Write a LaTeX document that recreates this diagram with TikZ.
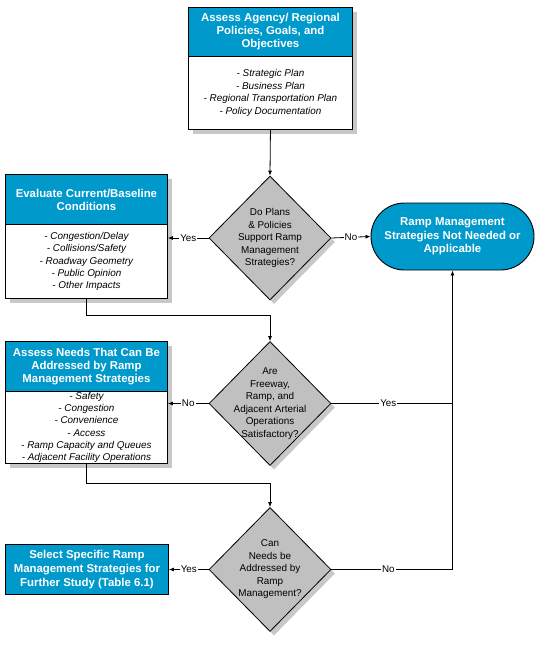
\documentclass[tikz,border=0pt]{standalone}
\usepackage{fontspec}
\setmainfont{Liberation Sans}
\usetikzlibrary{shapes.geometric,shapes.misc,shadows,arrows.meta}
\definecolor{hblue}{RGB}{0,153,204}
\definecolor{dgray}{RGB}{192,192,192}
\definecolor{shgray}{RGB}{200,200,200}
\begin{document}
\begin{tikzpicture}[x=1pt,y=1pt,
  shd/.style={general shadow={fill=shgray, shadow xshift=5pt, shadow yshift=-5pt}},
  hd/.style={draw=black, line width=0.9pt, fill=hblue, text=white,
    font=\fontsize{11.4}{13}\selectfont\bfseries, align=center, inner sep=0pt, anchor=north west, shd},
  bd/.style={draw=black, line width=0.9pt, fill=white,
    font=\fontsize{9.9}{12.4}\selectfont\itshape, align=center, inner sep=0pt, anchor=north west, shd},
  sel/.style={draw=black, line width=0.9pt, fill=hblue, text=white,
    font=\fontsize{11.4}{14}\selectfont\bfseries, align=center, inner sep=0pt, anchor=north west},
  dia/.style={diamond, draw=black, line width=0.8pt, fill=dgray, inner sep=0pt,
    minimum width=122pt, minimum height=124pt,
    general shadow={fill=shgray, shadow xshift=4pt, shadow yshift=-4pt}},
  dtxt/.style={font=\fontsize{9.9}{12.5}\selectfont, align=center, inner sep=0pt},
  lab/.style={fill=white, font=\fontsize{9.8}{11}\selectfont, inner sep=1pt},
  arr/.style={line width=0.8pt, -{Latex[length=5pt,width=4pt]}},
  ln/.style={line width=0.8pt}
]
\useasboundingbox (0,0) rectangle (547,-648);

% top box
\node[hd, minimum width=164pt, minimum height=49pt] (tophead) at (188,-7)
  {Assess Agency/ Regional\\Policies, Goals, and\\Objectives};
\node[bd, minimum width=164pt, minimum height=73pt] (topbody) at (188,-56)
  {- Strategic Plan\\- Business Plan\\- Regional Transportation Plan\\- Policy Documentation};

% evaluate box
\node[hd, minimum width=162pt, minimum height=50pt] (evalhead) at (5,-174)
  {Evaluate Current/Baseline\\Conditions};
\node[bd, minimum width=162pt, minimum height=74pt] (evalbody) at (5,-224)
  {- Congestion/Delay\\- Collisions/Safety\\- Roadway Geometry\\- Public Opinion\\- Other Impacts};

% needs box
\node[hd, minimum width=162pt, minimum height=50pt] (needhead) at (5,-341)
  {Assess Needs That Can Be\\Addressed by Ramp\\Management Strategies};
\node[bd, minimum width=162pt, minimum height=72pt, font=\fontsize{9.9}{12.2}\selectfont\itshape] (needbody) at (5,-391)
  {- Safety\\- Congestion\\- Convenience\\- Access\\- Ramp Capacity and Queues\\- Adjacent Facility Operations};

% select box
\node[sel, minimum width=163pt, minimum height=50pt] (select) at (5,-544)
  {Select Specific Ramp\\Management Strategies for\\Further Study (Table 6.1)};

% ramp management terminal
\node[rounded rectangle, draw=black, line width=0.9pt, fill=hblue, text=white,
  font=\fontsize{11.4}{13.3}\selectfont\bfseries, align=center, inner sep=0pt,
  minimum width=163pt, minimum height=67pt] (ramp) at (452.5,-236.5)
  {Ramp Management\\Strategies Not Needed or\\Applicable};

% diamonds
\node[dia] (d1) at (270,-238) {};
\node[dtxt] (d1t) at (d1) {Do Plans\\\& Policies\\Support Ramp\\Management\\Strategies?};
\node[dia] (d2) at (270,-403.5) {};
\node[dtxt] (d2t) at (d2) {Are\\Freeway,\\Ramp, and\\Adjacent Arterial\\Operations\\Satisfactory?};
\node[dia] (d3) at (270,-569.5) {};
\node[dtxt] (d3t) at (d3) {Can\\Needs be\\Addressed by\\Ramp\\Management?};

% connectors
\draw[arr] (topbody.south) -- (d1.north);
\draw[arr] (d1.west) -- node[lab] {Yes} (d1.west -| evalbody.east);
\draw[arr] (d1.east) -- node[lab] {No} (ramp.west);
\draw[arr] (evalbody.south) -- ++(0,-16) -| (d2.north);
\draw[arr] (d2.west) -- node[lab] {No} (d2.west -| needbody.east);
\draw[arr] (d2.east) -- node[lab, pos=0.47] {Yes} (d2.east -| ramp.south) -- (ramp.south);
\draw[arr] (needbody.south) -- ++(0,-19) -| (d3.north);
\draw[arr] (d3.west) -- node[lab] {Yes} (d3.west -| select.east);
\draw[ln] (d3.east) -- node[lab, pos=0.47] {No} (d3.east -| ramp.south) -- (d2.east -| ramp.south);
\end{tikzpicture}
\end{document}
